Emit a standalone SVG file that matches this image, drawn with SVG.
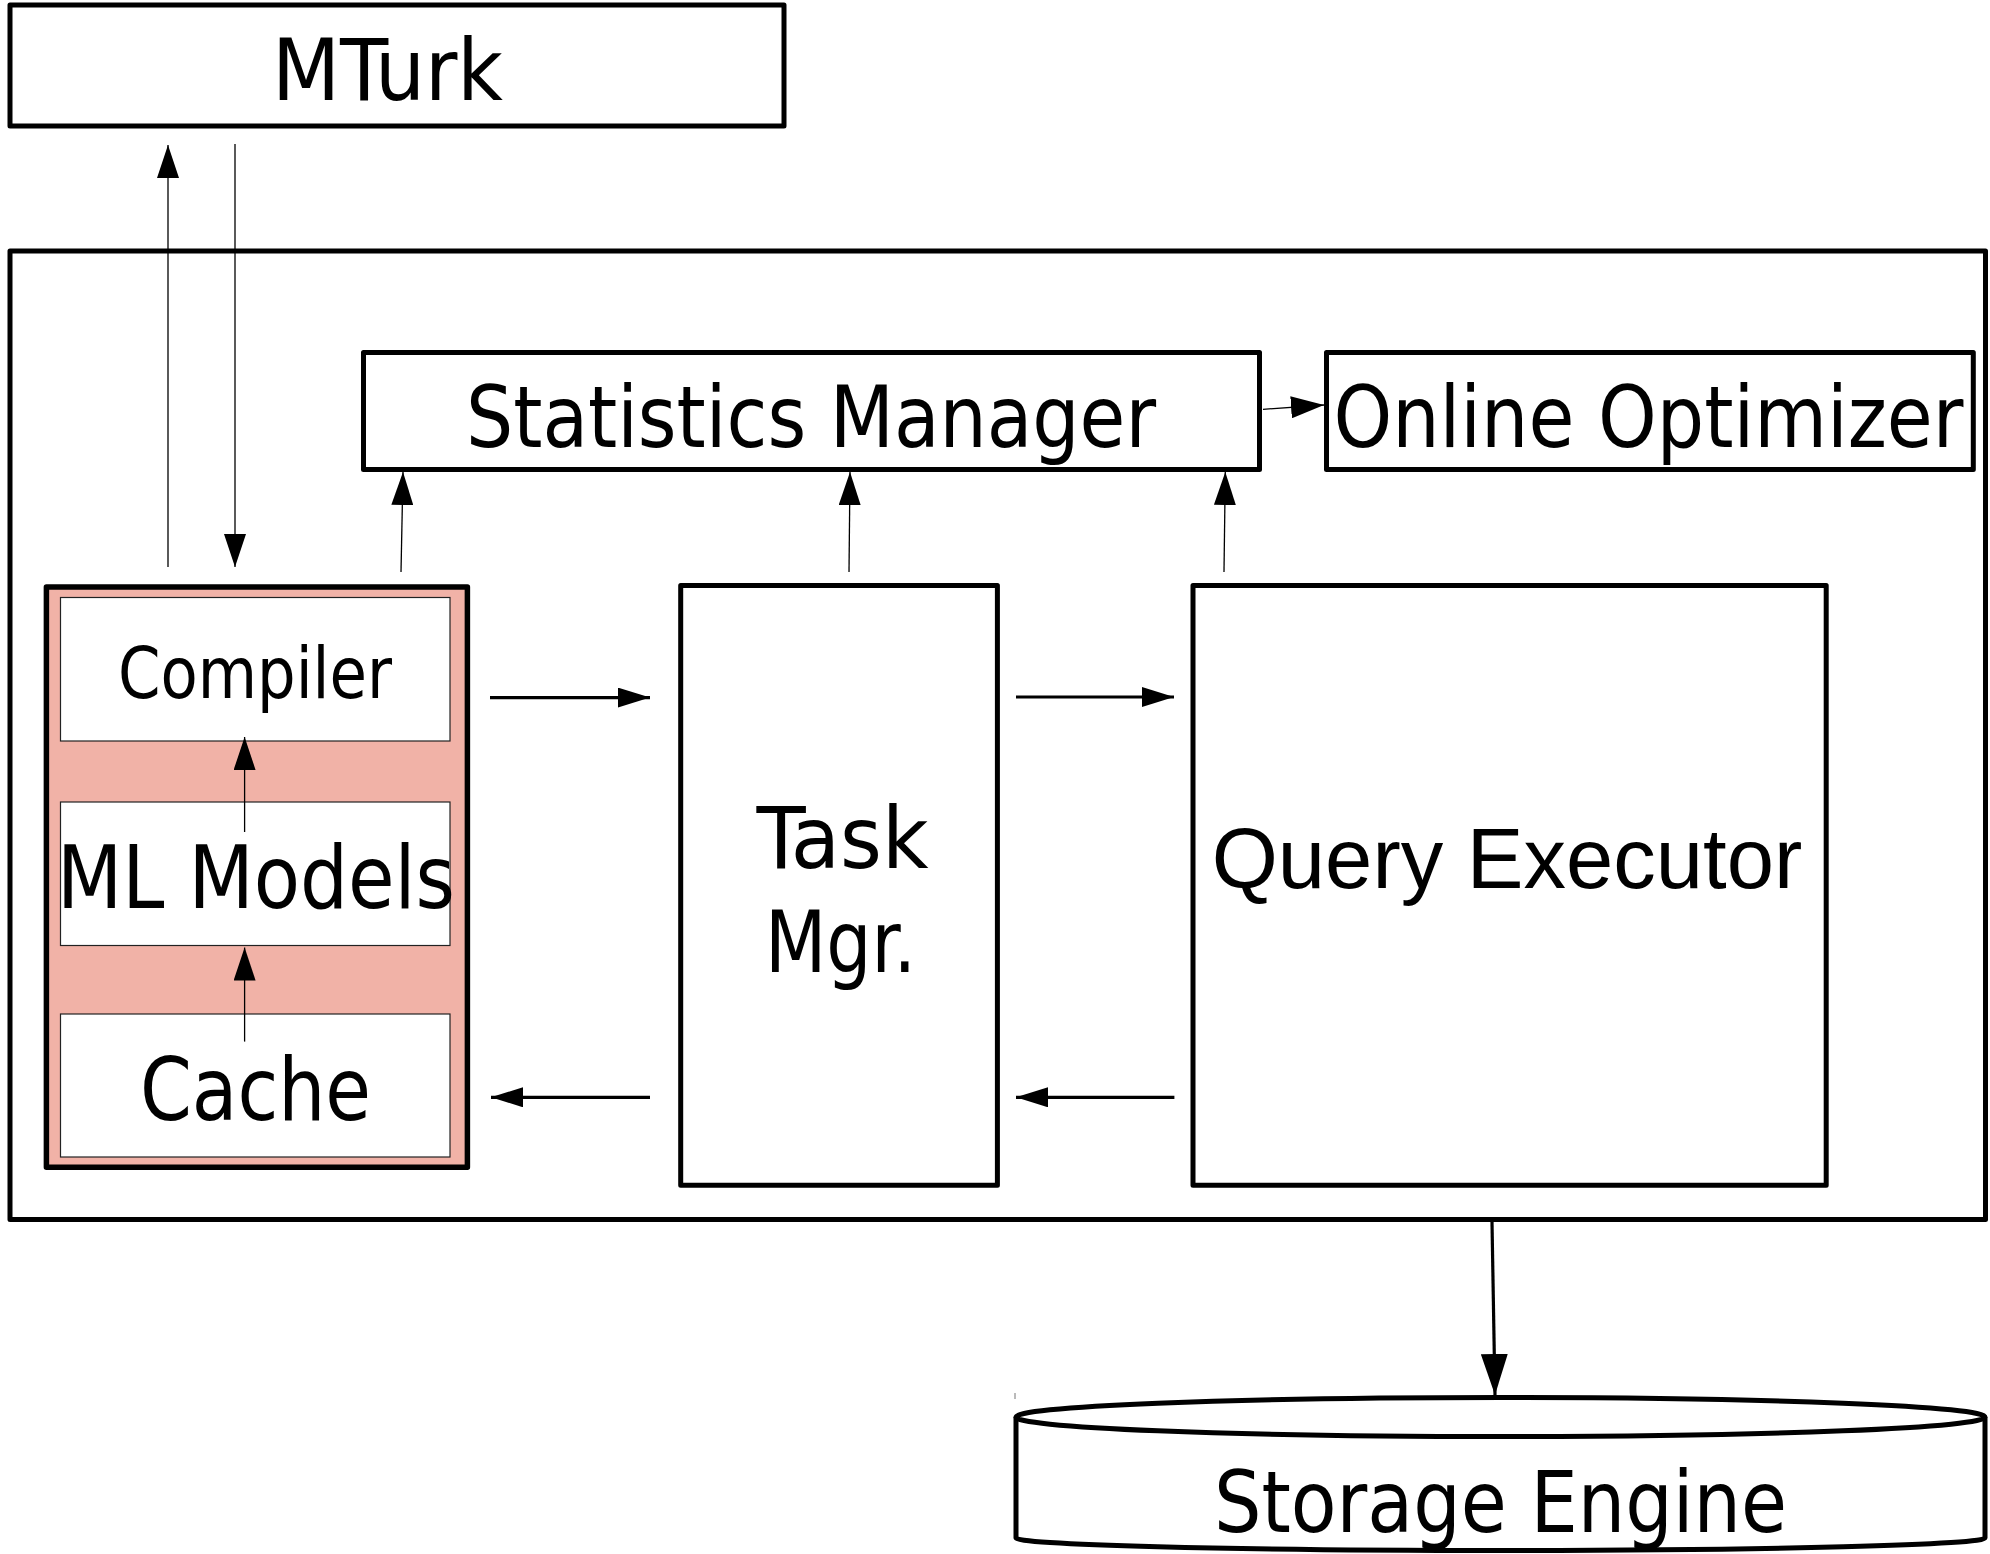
<svg xmlns="http://www.w3.org/2000/svg" width="1990" height="1554" viewBox="0 0 1990 1554">
<style>
.box{fill:#fff;stroke:#000;stroke-width:5;stroke-linejoin:round}
.inner{fill:#fff;stroke:#222;stroke-width:1.2}
.pink{fill:#f1b2a7;stroke:#000;stroke-width:5.5;stroke-linejoin:round}
.t{font-family:"DejaVu Sans Condensed","DejaVu Sans",sans-serif;font-stretch:condensed;fill:#000;text-anchor:middle}
.ta{font-family:"Liberation Sans",Arial,sans-serif;fill:#000;text-anchor:middle}
.thin{stroke:#000;stroke-width:1.3;fill:none;marker-end:url(#ah)}
.thick{stroke:#000;stroke-width:3.2;fill:none;marker-end:url(#ahk)}
.big{stroke:#000;stroke-width:3.2;fill:none;marker-end:url(#ahb)}
</style>
<defs>
<marker id="ah" markerUnits="userSpaceOnUse" viewBox="0 0 33 22" markerWidth="33" markerHeight="22" refX="33" refY="11" orient="auto"><path d="M0,0L33,11L0,22z" fill="#000"/></marker>
<marker id="ahk" markerUnits="userSpaceOnUse" viewBox="0 0 32 20" markerWidth="32" markerHeight="20" refX="32" refY="10" orient="auto"><path d="M0,0L32,10L0,20z" fill="#000"/></marker>
<marker id="ahb" markerUnits="userSpaceOnUse" viewBox="0 0 41 27" markerWidth="41" markerHeight="27" refX="41" refY="13.5" orient="auto"><path d="M0,0L41,13.5L0,27z" fill="#000"/></marker>
</defs>

<g id="mturk">
<rect class="box" x="10" y="5" width="774" height="121"/>
<text class="t" x="387.5" y="100" font-size="86" textLength="231" lengthAdjust="spacingAndGlyphs">MTurk</text>
</g>

<g id="system">
<rect class="box" x="10" y="251" width="1975.5" height="968.5"/>
</g>

<g id="statistics-manager">
<rect class="box" x="363.5" y="352.5" width="896" height="117"/>
<text class="t" x="811" y="447" font-size="86" textLength="690" lengthAdjust="spacingAndGlyphs">Statistics Manager</text>
</g>

<g id="online-optimizer">
<rect class="box" x="1326.5" y="352.5" width="646.8" height="117"/>
<text class="t" x="1648.5" y="447" font-size="86" textLength="630" lengthAdjust="spacingAndGlyphs">Online Optimizer</text>
</g>

<g id="front-end">
<rect class="pink" x="46.4" y="587" width="421" height="580.3"/>
</g>

<g id="compiler">
<rect class="inner" x="60.5" y="597.5" width="389.5" height="143.5"/>
<text class="t" x="255" y="697.6" font-size="72" textLength="274" lengthAdjust="spacingAndGlyphs">Compiler</text>
</g>

<g id="ml-models">
<rect class="inner" x="60.5" y="802" width="389.5" height="143.5"/>
<text class="t" x="256" y="908" font-size="88" textLength="398" lengthAdjust="spacingAndGlyphs">ML Models</text>
</g>

<g id="cache">
<rect class="inner" x="60.5" y="1014" width="389.5" height="143"/>
<text class="t" x="255.5" y="1119.5" font-size="88" textLength="231" lengthAdjust="spacingAndGlyphs">Cache</text>
</g>

<g id="task-mgr">
<rect class="box" x="680.7" y="585.5" width="316.7" height="599.7"/>
<text class="t" x="842.5" y="868" font-size="85" textLength="172" lengthAdjust="spacingAndGlyphs">Task</text>
<text class="t" x="840.5" y="971.7" font-size="85" textLength="151" lengthAdjust="spacingAndGlyphs">Mgr.</text>
</g>

<g id="query-executor">
<rect class="box" x="1193" y="585.5" width="633.2" height="599.7"/>
<text class="ta" x="1507" y="888" font-size="85">Query Executor</text>
</g>

<g id="storage-engine">
<path d="M1016,1417 L1016,1538 A484.5,12.5 0 0 0 1985,1538 L1985,1417" fill="#fff" stroke="#000" stroke-width="5"/>
<ellipse cx="1500.5" cy="1417" rx="484.5" ry="19.5" fill="#fff" stroke="#000" stroke-width="5"/>
<line x1="1015" y1="1393" x2="1015" y2="1399" stroke="#777" stroke-width="1"/>
<text class="t" x="1500.5" y="1531.7" font-size="86" textLength="573" lengthAdjust="spacingAndGlyphs">Storage Engine</text>
</g>

<g id="connectors">
<line class="thin" x1="168" y1="567" x2="168" y2="145"/>
<line class="thin" x1="235" y1="144" x2="235" y2="567" stroke="#444"/>
<line class="thin" x1="401" y1="572" x2="403" y2="472"/>
<line class="thin" x1="849" y1="572" x2="850" y2="472"/>
<line class="thin" x1="1224" y1="572" x2="1225.3" y2="472"/>
<line class="thin" x1="1263" y1="409.3" x2="1324" y2="405"/>
<line class="thin" x1="244.6" y1="1041.6" x2="244.6" y2="947.5" stroke="#333"/>
<line class="thin" x1="244.6" y1="832" x2="244.6" y2="737" stroke="#333"/>
<line class="thick" x1="490" y1="697.6" x2="650" y2="697.6"/>
<line class="thick" x1="1016" y1="697" x2="1174" y2="697"/>
<line class="thick" x1="1174.4" y1="1097.3" x2="1016" y2="1097.3"/>
<line class="thick" x1="650" y1="1097.3" x2="491" y2="1097.3"/>
<line class="big" x1="1492" y1="1222" x2="1495" y2="1395"/>
</g>
</svg>
